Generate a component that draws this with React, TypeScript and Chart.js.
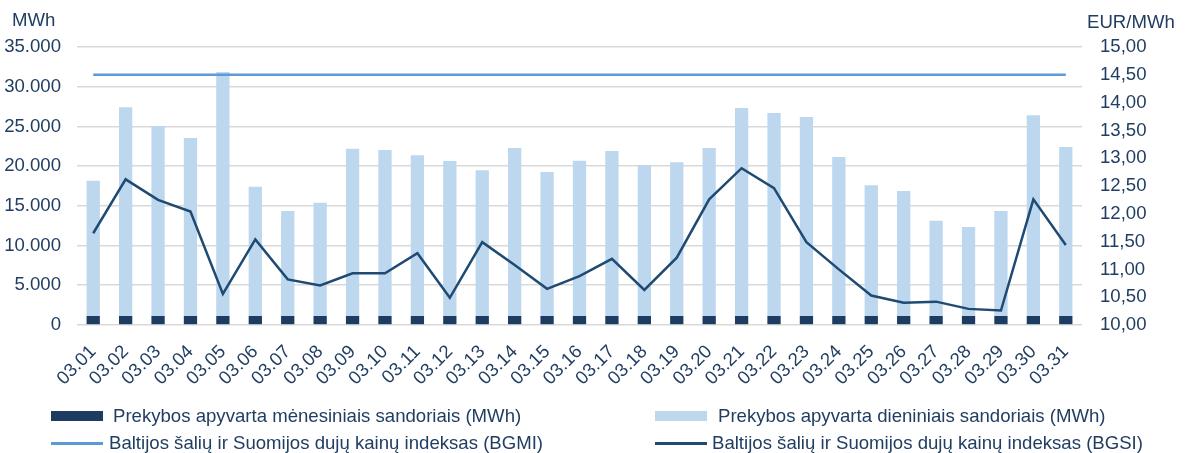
import React, { useEffect, useRef } from "react";
import { Chart, registerables } from "chart.js";

Chart.register(...registerables);

const categories = [
  "03.01","03.02","03.03","03.04","03.05","03.06","03.07","03.08","03.09","03.10",
  "03.11","03.12","03.13","03.14","03.15","03.16","03.17","03.18","03.19","03.20",
  "03.21","03.22","03.23","03.24","03.25","03.26","03.27","03.28","03.29","03.30","03.31",
];

const monthlyTurnover = [
  1130,1130,1130,1130,1130,1130,1130,1130,1130,1130,
  1130,1130,1130,1130,1130,1130,1130,1130,1130,1130,
  1130,1130,1130,1130,1130,1130,1130,1130,1130,1130,1130,
];

const dailyTurnover = [
  17040,26270,23920,22420,30720,16280,13220,14270,21070,20900,
  20230,19520,18340,21150,18130,19560,20770,19010,19350,21150,
  26190,25560,25060,20020,16460,15740,12000,11210,13220,25270,21280,
];

const bgmi = [
  14.5,14.5,14.5,14.5,14.5,14.5,14.5,14.5,14.5,14.5,
  14.5,14.5,14.5,14.5,14.5,14.5,14.5,14.5,14.5,14.5,
  14.5,14.5,14.5,14.5,14.5,14.5,14.5,14.5,14.5,14.5,14.5,
];

const bgsi = [
  11.65,12.62,12.25,12.04,10.56,11.54,10.82,10.71,10.93,10.93,
  11.29,10.49,11.49,11.08,10.65,10.88,11.19,10.63,11.21,12.26,
  12.82,12.46,11.49,11.00,10.53,10.40,10.42,10.29,10.26,12.26,11.44,
];

const seriesLabels = [
  "Prekybos apyvarta mėnesiniais sandoriais (MWh)",
  "Prekybos apyvarta dieniniais sandoriais (MWh)",
  "Baltijos šalių ir Suomijos dujų kainų indeksas (BGMI)",
  "Baltijos šalių ir Suomijos dujų kainų indeksas (BGSI)",
];

const leftTitle = "MWh";
const rightTitle = "EUR/MWh";

const COLORS = {
  monthly: "#1D3C61",
  daily: "#BDD7EE",
  bgmi: "#5B9BD5",
  bgsi: "#1F4A72",
  text: "#213E62",
  grid: "#D9D9D9",
};

const FONT = "'Liberation Sans', Arial, sans-serif";
const FS = 18.6;

function fmtThousands(v: number): string {
  const s = Math.round(v).toString();
  return s.replace(/\B(?=(\d{3})+(?!\d))/g, ".");
}

export default function App() {
  const canvasRef = useRef<HTMLCanvasElement | null>(null);

  useEffect(() => {
    document.body.style.margin = "0";
    const canvas = canvasRef.current;
    if (!canvas) return;
    const chart = new Chart(canvas, {
      type: "bar",
      data: {
        labels: categories,
        datasets: [
          {
            type: "bar",
            label: seriesLabels[0],
            data: monthlyTurnover,
            backgroundColor: COLORS.monthly,
            yAxisID: "y",
            stack: "s",
            order: 2,
            categoryPercentage: 1,
            barPercentage: 0.41,
          },
          {
            type: "bar",
            label: seriesLabels[1],
            data: dailyTurnover,
            backgroundColor: COLORS.daily,
            yAxisID: "y",
            stack: "s",
            order: 2,
            categoryPercentage: 1,
            barPercentage: 0.41,
          },
          {
            type: "line",
            label: seriesLabels[2],
            data: bgmi,
            borderColor: COLORS.bgmi,
            backgroundColor: COLORS.bgmi,
            borderWidth: 2.5,
            pointRadius: 0,
            tension: 0,
            yAxisID: "y1",
            order: 1,
          },
          {
            type: "line",
            label: seriesLabels[3],
            data: bgsi,
            borderColor: COLORS.bgsi,
            backgroundColor: COLORS.bgsi,
            borderWidth: 2.5,
            pointRadius: 0,
            tension: 0,
            yAxisID: "y1",
            order: 0,
          },
        ],
      },
      options: {
        responsive: false,
        animation: false,
        layout: { padding: { top: 47, left: 0, right: 0, bottom: 0 } },
        plugins: {
          legend: { display: false },
          tooltip: { enabled: false },
          title: { display: false },
        },
        scales: {
          x: {
            stacked: true,
            offset: true,
            grid: { display: false },
            border: { display: false },
            ticks: {
              color: COLORS.text,
              font: { family: FONT, size: FS },
              minRotation: 45,
              maxRotation: 45,
              autoSkip: false,
              padding: 8,
            },
            afterFit: (scale: any) => {
              scale.height = 128;
            },
          },
          y: {
            position: "left",
            stacked: true,
            min: 0,
            max: 35000,
            grid: { color: COLORS.grid, lineWidth: 1.6, drawTicks: false },
            border: { display: false },
            ticks: {
              stepSize: 5000,
              color: COLORS.text,
              font: { family: FONT, size: FS },
              padding: 16,
              callback: (v: any) => fmtThousands(Number(v)),
            },
            afterFit: (scale: any) => {
              scale.width = 77;
            },
          },
          y1: {
            position: "right",
            min: 10,
            max: 15,
            grid: { display: false, drawTicks: false },
            border: { display: false },
            ticks: {
              stepSize: 0.5,
              color: COLORS.text,
              font: { family: FONT, size: FS },
              padding: 18,
              callback: (v: any) => Number(v).toFixed(2).replace(".", ","),
            },
            afterFit: (scale: any) => {
              scale.width = 103;
            },
          },
        },
      },
    });
    return () => chart.destroy();
  }, []);

  const textStyle: React.CSSProperties = {
    position: "absolute",
    fontFamily: FONT,
    fontSize: FS,
    color: COLORS.text,
    whiteSpace: "nowrap",
    lineHeight: "20px",
  };

  const legendItems = [
    { label: seriesLabels[0], kind: "box", color: COLORS.monthly, x: 51, y: 415.5, tx: 113 },
    { label: seriesLabels[1], kind: "box", color: COLORS.daily, x: 655, y: 415.5, tx: 718 },
    { label: seriesLabels[2], kind: "line", color: COLORS.bgmi, x: 51, y: 443, tx: 109 },
    { label: seriesLabels[3], kind: "line", color: COLORS.bgsi, x: 655, y: 443, tx: 712 },
  ];

  return (
    <div style={{ position: "absolute", left: 0, top: 0, width: 1185, height: 453, background: "#fff", overflow: "hidden" }}>
      <canvas ref={canvasRef} width={1185} height={453} style={{ position: "absolute", left: 0, top: 0 }} />
      <div style={{ ...textStyle, left: 12, top: 10 }}>{leftTitle}</div>
      <div style={{ ...textStyle, left: 1087, top: 12 }}>{rightTitle}</div>
      {legendItems.map((it) => (
        <React.Fragment key={it.label}>
          <div
            style={{
              position: "absolute",
              left: it.x,
              top: it.kind === "box" ? it.y - 5 : it.y - 1.5,
              width: 52,
              height: it.kind === "box" ? 10 : 3,
              background: it.color,
            }}
          />
          <div style={{ ...textStyle, left: it.tx, top: it.y - 10 }}>{it.label}</div>
        </React.Fragment>
      ))}
    </div>
  );
}
